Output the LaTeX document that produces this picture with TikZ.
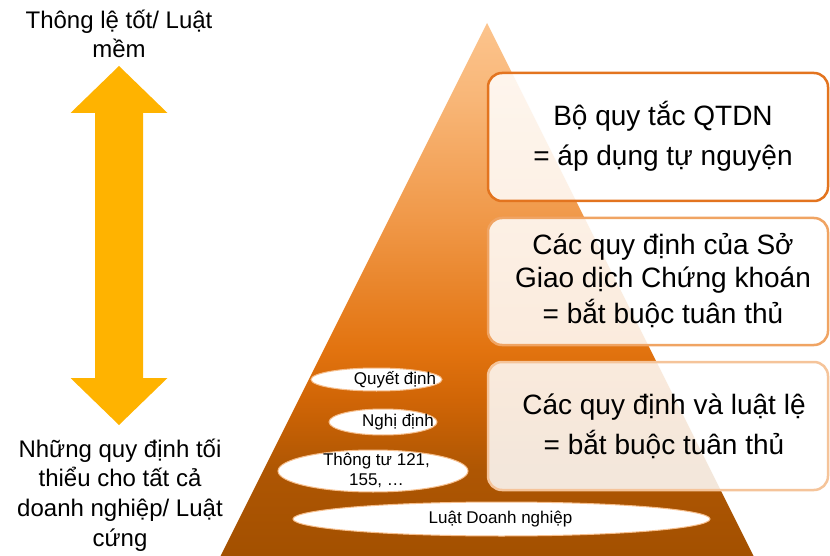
\documentclass[tikz,border=0pt]{standalone}
\usepackage{fontspec}
\setmainfont{Liberation Sans}
\usetikzlibrary{shapes.geometric}

% pyramid colours, bottom to top
\definecolor{pyrA}{HTML}{A35000}
\definecolor{pyrB}{HTML}{AE5603}
\definecolor{pyrC}{HTML}{D06506}
\definecolor{pyrD}{HTML}{E2730F}
\definecolor{pyrE}{HTML}{F09848}
\definecolor{pyrF}{HTML}{F8B677}
\definecolor{pyrG}{HTML}{FCC48D}
\definecolor{arrowgold}{HTML}{FFB300}
\definecolor{edgeA}{HTML}{E3741F}
\definecolor{edgeB}{HTML}{F0A463}
\definecolor{edgeC}{HTML}{F5C49A}
\definecolor{elledge}{HTML}{F6BE8C}

\pgfdeclareverticalshading{pyrshade}{100bp}{%
  color(0bp)=(pyrA); color(25bp)=(pyrA); color(33bp)=(pyrB);
  color(39.6bp)=(pyrC); color(44.3bp)=(pyrD); color(56.5bp)=(pyrE);
  color(67.8bp)=(pyrF); color(75bp)=(pyrG); color(100bp)=(pyrG)}

\tikzset{
  sidetext/.style={align=center, inner sep=0pt, font=\fontsize{24}{29.7}\selectfont},
  rulebox/.style={draw, rounded corners=14pt, line width=2.5pt, fill=white,
    fill opacity=0.86, minimum width=340pt, minimum height=128pt, inner sep=0pt},
  boxtext/.style={align=center, inner sep=0pt, font=\fontsize{28}{30}\selectfont},
  lawell/.style={ellipse, draw=elledge, line width=1pt, fill=white, inner sep=0pt},
  elltext/.style={align=center, inner sep=0pt, font=\fontsize{17}{20}\selectfont},
}

\begin{document}
\begin{tikzpicture}[x=1pt, y=-1pt]
\useasboundingbox (0,0) rectangle (830,556);

% pyramid of rules
\coordinate (apex) at (487,23);
\coordinate (baseL) at (220.5,556);
\coordinate (baseR) at (753.5,556);
\shade[shading=pyrshade] (apex) -- (baseR) -- (baseL) -- cycle;

% double block arrow between soft and hard law
\fill[arrowgold] (119,66) -- (167.5,113) -- (143,113) -- (143,378) -- (167.5,378)
  -- (119,425) -- (70.5,378) -- (95,378) -- (95,113) -- (70.5,113) -- cycle;

\node[sidetext] (soft) at (119,34) {Thông lệ tốt/ Luật\\mềm};
\node[sidetext] (hard) at (120,495) {Những quy định tối\\thiểu cho tất cả\\doanh nghiệp/ Luật\\cứng};

% explanation boxes
\node[rulebox, draw=edgeA] (box1) at (658,137) {};
\node[rulebox, draw=edgeB, minimum height=127pt] (box2) at (658,281.5) {};
\node[rulebox, draw=edgeC] (box3) at (658,426) {};

\node[boxtext] (txt1) at (663,136) {Bộ quy tắc QTDN\\[10pt]= áp dụng tự nguyện};
\node[boxtext, font=\fontsize{28}{33}\selectfont] (txt2) at (663,280.5)
  {Các quy định của Sở\\Giao dịch Chứng khoán\\[3pt]= bắt buộc tuân thủ};
\node[boxtext] (txt3) at (664,426) {Các quy định và luật lệ\\[9pt]= bắt buộc tuân thủ};

% legal instruments inside the pyramid
\node[lawell, minimum width=131pt, minimum height=23pt] (qd) at (376.5,379.5) {};
\node[lawell, minimum width=108pt, minimum height=26pt] (nd) at (383,422) {};
\node[lawell, minimum width=190pt, minimum height=42pt] (tt) at (373,471) {};
\node[lawell, minimum width=417pt, minimum height=34pt] (ldn) at (501.5,519) {};

\node[elltext] (qdt) at (395,380) {Quyết định};
\node[elltext] (ndt) at (398,422) {Nghị định};
\node[elltext] (ttt) at (376.5,470.5) {Thông tư 121,\\155, …};
\node[elltext] (ldnt) at (500.5,519) {Luật Doanh nghiệp};
\end{tikzpicture}
\end{document}
